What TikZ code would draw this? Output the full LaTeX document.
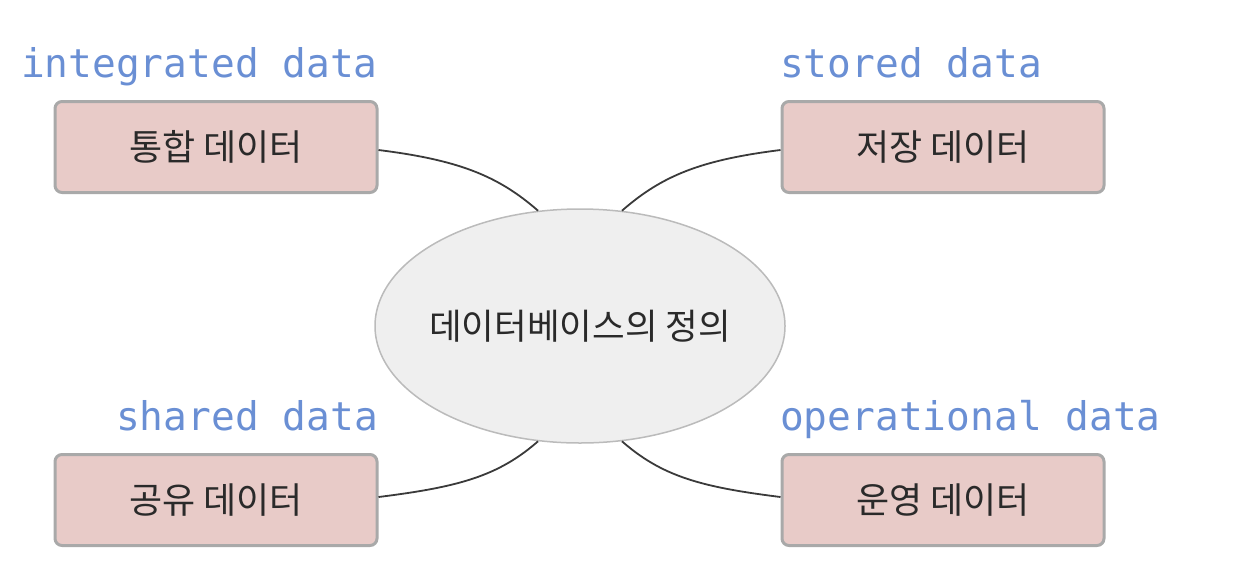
\documentclass[tikz,border=0pt]{standalone}
\usepackage{fontspec}
\newfontfamily\kr{Noto Sans CJK KR}
\newfontfamily\mono{DejaVu Sans Mono}
\usetikzlibrary{shapes.geometric}
\definecolor{boxfill}{HTML}{E8CBC8}
\definecolor{boxline}{HTML}{A9A9A9}
\definecolor{elfill}{HTML}{EFEFEF}
\definecolor{elline}{HTML}{BBBBBB}
\definecolor{lblue}{HTML}{6A8FD4}
\definecolor{txt}{HTML}{2A2A2A}
\definecolor{conn}{HTML}{3A3A3A}
\tikzset{
  databox/.style={draw=boxline, line width=3pt, fill=boxfill, rounded corners=7pt,
    minimum width=322pt, minimum height=91pt, inner sep=0pt,
    font=\kr\fontsize{36}{40}\selectfont, text=txt},
  center/.style={ellipse, draw=elline, line width=1.5pt, fill=elfill,
    minimum width=410pt, minimum height=234pt, inner sep=-12pt,
    font=\kr\fontsize{35.5}{38}\selectfont, text=txt},
  eng/.style={font=\mono\fontsize{39.5}{43}\selectfont, text=lblue, inner sep=0pt},
  link/.style={draw=conn, line width=1.8pt}
}
\begin{document}
\begin{tikzpicture}[x=1pt,y=1pt]
\useasboundingbox (0,0) rectangle (1233,-571);
\node[center] (el) at (580,-326) {데이터베이스의 정의};
\node[databox] (tl) at (216,-147) {통합 데이터};
\node[databox] (tr) at (943,-147) {저장 데이터};
\node[databox] (bl) at (216,-500) {공유 데이터};
\node[databox] (br) at (943,-500) {운영 데이터};
\node[eng, anchor=base east] (ltl) at (378,-77) {integrated data};
\node[eng, anchor=base west] (ltr) at (780,-77) {stored data};
\node[eng, anchor=base east] (lbl) at (378,-430) {shared data};
\node[eng, anchor=base west] (lbr) at (780,-430) {operational data};
\draw[link] (tl.east) ++(0,-3) coordinate (a1) (a1) .. controls +(80,-10) and +(-40,35) .. (el.110);
\draw[link] (tr.west) ++(0,-3) coordinate (a2) (a2) .. controls +(-80,-10) and +(40,35) .. (el.70);
\draw[link] (bl.east) ++(0,3) coordinate (a3) (a3) .. controls +(80,10) and +(-40,-35) .. (el.250);
\draw[link] (br.west) ++(0,3) coordinate (a4) (a4) .. controls +(-80,10) and +(40,-35) .. (el.290);
\end{tikzpicture}
\end{document}
